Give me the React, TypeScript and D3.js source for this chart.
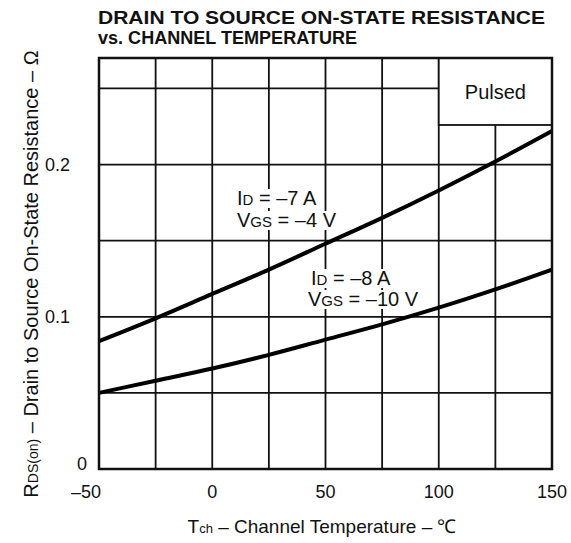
import { useLayoutEffect, useRef, useState } from "react";
import { curveMonotoneX, line, range, scaleLinear } from "d3";

const WIDTH = 571;
const HEIGHT = 543;
const PLOT = { left: 99, right: 552, top: 58, bottom: 469 };
const FONT = "'Liberation Sans', Arial, Helvetica, sans-serif";

// channel temperature (°C) and RDS(on) (Ω)
const TEMPS = [-50, -25, 0, 25, 50, 75, 100, 125, 150];
const R_ID7_VGS4 = [0.084, 0.099, 0.115, 0.131, 0.148, 0.165, 0.183, 0.202, 0.222];
const R_ID8_VGS10 = [0.05, 0.058, 0.066, 0.075, 0.085, 0.095, 0.106, 0.118, 0.131];

const X_TICKS = [-50, 0, 50, 100, 150];
const Y_TICKS = [0.1, 0.2];
const X_GRID = range(-25, 150, 25);
const Y_GRID = [0.05, 0.1, 0.15, 0.2, 0.25];

const Y_MAX = 0.27;
const PULSED_BOTTOM = 0.226;

function Masked({ x, y, size, children }: { x: number; y: number; size: number; children: any }) {
  const ref = useRef<SVGTextElement>(null);
  const [box, setBox] = useState<{ x: number; y: number; w: number; h: number } | null>(null);
  useLayoutEffect(() => {
    if (ref.current) {
      const b = ref.current.getBBox();
      setBox({ x: b.x, y: b.y, w: b.width, h: b.height });
    }
  }, []);
  return (
    <g>
      {box && <rect x={box.x - 3} y={box.y + 2} width={box.w + 6} height={box.h - 3} fill="#fff" />}
      <text ref={ref} x={x} y={y} fontSize={size} fontFamily={FONT} fill="#111">
        {children}
      </text>
    </g>
  );
}

export default function App() {
  const x = scaleLinear().domain([-50, 150]).range([PLOT.left, PLOT.right]);
  const y = scaleLinear().domain([0, Y_MAX]).range([PLOT.bottom, PLOT.top]);

  const path = line<number>()
    .x((_, i) => x(TEMPS[i]))
    .y((d) => y(d))
    .curve(curveMonotoneX);

  const sub = 15;

  return (
    <svg
      width={WIDTH}
      height={HEIGHT}
      viewBox={`0 0 ${WIDTH} ${HEIGHT}`}
      style={{ position: "absolute", left: 0, top: 0, background: "#fff" }}
    >
      <rect width={WIDTH} height={HEIGHT} fill="#fff" />

      {/* title */}
      <text x={98} y={24} fontSize={18} fontWeight="bold" fontFamily={FONT} fill="#111" textLength={447} lengthAdjust="spacingAndGlyphs">
        DRAIN TO SOURCE ON-STATE RESISTANCE
      </text>
      <text x={98} y={44} fontSize={18} fontWeight="bold" fontFamily={FONT} fill="#111" textLength={259} lengthAdjust="spacingAndGlyphs">
        vs. CHANNEL TEMPERATURE
      </text>

      {/* grid */}
      {X_GRID.map((t) => (
        <line key={`gx${t}`} x1={x(t)} x2={x(t)} y1={PLOT.top} y2={PLOT.bottom} stroke="#111" strokeWidth={1.8} />
      ))}
      {Y_GRID.map((v) => (
        <line key={`gy${v}`} x1={PLOT.left} x2={PLOT.right} y1={y(v)} y2={y(v)} stroke="#111" strokeWidth={1.8} />
      ))}

      {/* Pulsed box */}
      <rect
        x={x(100)}
        y={y(Y_MAX)}
        width={x(150) - x(100)}
        height={y(PULSED_BOTTOM) - y(Y_MAX)}
        fill="#fff"
        stroke="#111"
        strokeWidth={1.8}
      />
      <text x={(x(100) + x(150)) / 2} y={99} textAnchor="middle" fontSize={20} fontFamily={FONT} fill="#111">
        Pulsed
      </text>

      {/* curve labels */}
      <Masked x={237} y={205} size={20}>
        I<tspan fontSize={sub}>D</tspan> = –7 A
      </Masked>
      <Masked x={237} y={227} size={20}>
        V<tspan fontSize={sub}>GS</tspan> = –4 V
      </Masked>
      <Masked x={311} y={285} size={20}>
        I<tspan fontSize={sub}>D</tspan> = –8 A
      </Masked>
      <Masked x={308} y={306} size={20}>
        V<tspan fontSize={sub}>GS</tspan> = –10 V
      </Masked>

      {/* curves */}
      <path d={path(R_ID7_VGS4) ?? ""} fill="none" stroke="#000" strokeWidth={4} />
      <path d={path(R_ID8_VGS10) ?? ""} fill="none" stroke="#000" strokeWidth={4} />

      {/* frame */}
      <rect
        x={PLOT.left}
        y={PLOT.top}
        width={PLOT.right - PLOT.left}
        height={PLOT.bottom - PLOT.top}
        fill="none"
        stroke="#111"
        strokeWidth={2.5}
      />

      {/* y ticks */}
      {Y_TICKS.map((v) => (
        <text key={`ty${v}`} x={70} y={y(v) + 6} textAnchor="end" fontSize={18} fontFamily={FONT} fill="#111">
          {v.toFixed(1)}
        </text>
      ))}
      <text x={87} y={470} textAnchor="end" fontSize={18} fontFamily={FONT} fill="#111">
        0
      </text>

      {/* x ticks */}
      {X_TICKS.map((t) => (
        <text
          key={`tx${t}`}
          x={x(t) + (t < 0 ? -13 : 0)}
          y={498}
          textAnchor="middle"
          fontSize={18}
          fontFamily={FONT}
          fill="#111"
        >
          {t < 0 ? `–${Math.abs(t)}` : t}
        </text>
      ))}

      {/* axis titles */}
      <text x={322} y={533} textAnchor="middle" fontSize={19} fontFamily={FONT} fill="#111">
        T<tspan fontSize={13}>ch</tspan> – Channel Temperature – ℃
      </text>
      <text
        transform={`translate(38, 274) rotate(-90)`}
        textAnchor="middle"
        fontSize={20}
        fontFamily={FONT}
        fill="#111"
      >
        R<tspan fontSize={14}>DS(on)</tspan> – Drain to Source On-State Resistance – Ω
      </text>
    </svg>
  );
}
